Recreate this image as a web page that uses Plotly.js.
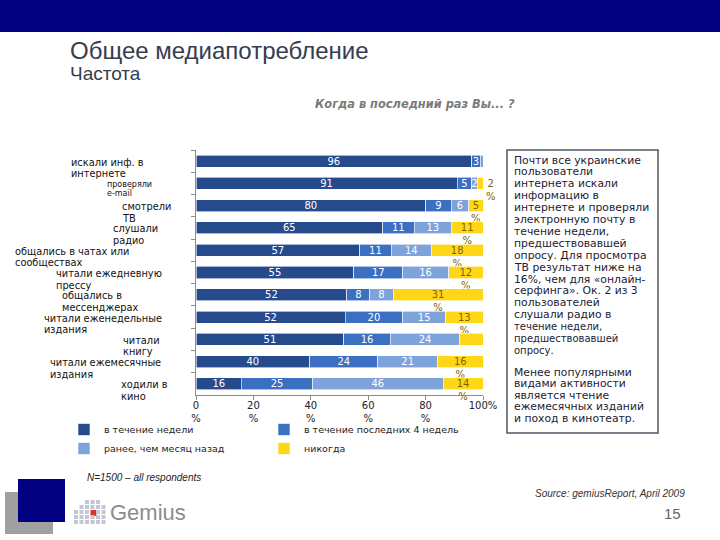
<!DOCTYPE html>
<html><head><meta charset="utf-8">
<script src="https://cdn.plot.ly/plotly-3.0.1.min.js"></script>
<style>body{margin:0;background:#fff}#chart{width:720px;height:540px}</style>
</head><body><div id="chart"></div>
<script>
// ---- data ----
const categories = ['искали инф. в<br>интернете','проверяли<br>e-mail','смотрели<br>ТВ','слушали<br>радио','общались в чатах или<br>сообществах','читали ежедневную<br>прессу','общались в<br>мессенджерах','читали еженедельные<br>издания','читали<br>книгу','читали ежемесячные<br>издания','ходили в<br>кино'];
const seriesNames = ['в течение недели','в течение последних 4 недель','ранее, чем месяц назад','никогда'];
const weekValues    = [96,91,80,65,57,55,52,52,51,40,16];
const monthValues   = [3,5,9,11,11,17,8,20,16,24,25];
const earlierValues = [1,2,6,13,14,16,8,15,24,21,46];
const neverValues   = [0,2,5,11,18,12,31,13,8,16,14];
const xTickValues = [0,20,40,60,80,100];
const xTickLabels = ['0<br>%','20<br>%','40<br>%','60<br>%','80<br>%','100%'];

// ---- geometry helpers (pixel -> paper) ----
const L=196, R=483, T=150, B=395;
const X = p => (p-L)/(R-L);
const Y = p => (B-p)/(B-T);

const colors = ['#264B8C','#3A6FC1','#7DA3DA','#FFD717'];

function bar(i, vals, texts, positions, textColor, legendId){
  return {
    type:'bar', orientation:'h', name:seriesNames[i], y:categories, x:vals,
    marker:{color:colors[i], line:{color:'#ffffff', width:0.6}},
    text:texts, textposition:positions, textangle:0, constraintext:'none',
    insidetextanchor:'middle', cliponaxis:false,
    textfont:{family:'DejaVu Sans', size:10, color:textColor},
    insidetextfont:{family:'DejaVu Sans', size:10, color:textColor},
    outsidetextfont:{family:'DejaVu Sans', size:10, color:textColor},
    hoverinfo:'x+name', legend:legendId
  };
}
const weekText = weekValues.map(v=>String(v));
const monthText = monthValues.map(v=>String(v));
const earlierText = earlierValues.map(v=> v>=2 ? String(v) : '');
const neverText = neverValues.map(v=> v>0 ? '&nbsp;<br>'+v+'<br>%' : '');
const neverPos = neverValues.map(v=> v<=3 ? 'outside' : 'inside');

const traces = [
  bar(0, weekValues, weekText, 'inside', '#ffffff', 'legend'),
  bar(1, monthValues, monthText, 'inside', '#ffffff', 'legend2'),
  bar(2, earlierValues, earlierText, 'inside', '#ffffff', 'legend'),
  bar(3, neverValues, neverText, neverPos, '#7d6400', 'legend2')
];

// ---- annotations ----
const ann = [];
const labelLeft = [70,106,121,112,14,55,61,43,122,49,120];
categories.forEach((c,i)=>{
  const small = (i===1);
  c.split('<br>').forEach((line,j)=>ann.push({
    xref:'paper', yref:'y', x:X(labelLeft[i]), y:i, xanchor:'left', yanchor:'middle', align:'left',
    text:line, showarrow:false, yshift: -1 - j*(small ? 9 : 11.5), borderpad:0,
    font:{family:'DejaVu Sans', size: small ? 8 : 9.8, color:'#111111'}
  }));
});
ann.push({xref:'paper',yref:'paper',x:X(68),y:Y(50),xanchor:'left',yanchor:'middle',showarrow:false,
  text:'Общее медиапотребление',font:{family:'Liberation Sans',size:24,color:'#353d50'}});
ann.push({xref:'paper',yref:'paper',x:X(68),y:Y(73),xanchor:'left',yanchor:'middle',showarrow:false,
  text:'Частота',font:{family:'Liberation Sans',size:19,color:'#353d50'}});
ann.push({xref:'paper',yref:'paper',x:X(415),y:Y(104),xanchor:'center',yanchor:'middle',showarrow:false,
  text:'Когда в последний раз Вы... ?',font:{family:'DejaVu Sans',size:11.4,color:'#7a7a7a',weight:'bold',style:'italic'}});

const boxP1 = ['Почти все украинские','пользователи','интернета искали','информацию в','интернете и проверяли','электронную почту в','течение недели,','предшествовавшей','опросу. Для просмотра','ТВ результат ниже на','16%, чем для «онлайн-','серфинга». Ок. 2 из 3','пользователей','слушали радио в','течение недели,','предшествовавшей','опросу.'];
const boxP2 = ['Менее популярными','видами активности','является чтение','ежемесячных изданий','и поход в кинотеатр.'];
boxP1.forEach((t,i)=>ann.push({xref:'paper',yref:'paper',x:X(513),y:Y(160+i*11.9),xanchor:'left',yanchor:'middle',
  showarrow:false,borderpad:0,text:t,font:{family:'DejaVu Sans',size: i>=14 ? 10 : 10.8,color:'#1c2233'}}));
boxP2.forEach((t,i)=>ann.push({xref:'paper',yref:'paper',x:X(513),y:Y(372+i*11.6),xanchor:'left',yanchor:'middle',
  showarrow:false,borderpad:0,text:t,font:{family:'DejaVu Sans',size:10.8,color:'#1c2233'}}));

ann.push({xref:'paper',yref:'paper',x:X(85),y:Y(477),xanchor:'left',yanchor:'middle',showarrow:false,
  text:'N=1500 – all respondents',font:{family:'Liberation Sans',size:10,color:'#222',style:'italic'}});
ann.push({xref:'paper',yref:'paper',x:X(687),y:Y(493),xanchor:'right',yanchor:'middle',showarrow:false,
  text:'Source: gemiusReport, April 2009',font:{family:'Liberation Sans',size:10,color:'#333',style:'italic'}});
ann.push({xref:'paper',yref:'paper',x:X(683),y:Y(513),xanchor:'right',yanchor:'middle',showarrow:false,
  text:'15',font:{family:'Liberation Sans',size:15,color:'#666'}});
ann.push({xref:'paper',yref:'paper',x:X(108),y:Y(512),xanchor:'left',yanchor:'middle',showarrow:false,
  text:'Gemius',font:{family:'Liberation Sans',size:22,color:'#8c8c8c'}});

// ---- shapes ----
const shapes = [];
const rect = (x0,y0,x1,y1,fill,line,lw,layer)=>shapes.push({type:'rect',xref:'paper',yref:'paper',
  x0:X(x0),x1:X(x1),y0:Y(y0),y1:Y(y1),fillcolor:fill,line:{color:line||fill,width:lw||0},layer:layer||'above'});
rect(0,0,720,32,'#000080');
rect(507,150,658,433,'rgba(0,0,0,0)','#4d5666',1.5,'below');
rect(5,492,53,534,'#a0a0a0');
rect(18,479,65,522,'#000080');
// logo dots
const colStart=[2,1,0,0,0,1];
for(let c=0;c<6;c++){ for(let r=colStart[c];r<5;r++){
  const x0=74+c*5.5, y0=500+r*5;
  const red = (c===3 && r===2);
  rect(x0,y0,x0+(red?6:4),y0+(red?6:4), red?'#d9312b':'#c3c6d3');
}}

const layout = {
  width:720, height:540, margin:{l:L, r:720-R, t:T, b:540-B},
  paper_bgcolor:'#ffffff', plot_bgcolor:'#ffffff',
  barmode:'stack', barnorm:'percent', bargap:0.46,
  font:{family:'DejaVu Sans', size:10, color:'#111'},
  xaxis:{range:[0,100], tickvals:xTickValues, ticktext:xTickLabels, showgrid:false, zeroline:false,
    showline:true, linecolor:'#8c8c8c', linewidth:1, ticks:'outside', ticklen:4, tickcolor:'#8c8c8c',
    ticklabelstandoff:-3,
    tickfont:{family:'DejaVu Sans', size:10, color:'#222'}, fixedrange:true},
  yaxis:{autorange:false, range:[categories.length-0.5, -0.5], showticklabels:false, showgrid:false, zeroline:false, showline:true,
    linecolor:'#8c8c8c', linewidth:1, ticks:'outside', ticklen:4, tickcolor:'#8c8c8c', tickson:'boundaries', fixedrange:true},
  showlegend:true,
  legend:{x:X(64), y:Y(415), xanchor:'left', yanchor:'top', orientation:'v', bgcolor:'rgba(0,0,0,0)',
    font:{family:'DejaVu Sans', size:9.5, color:'#222'}, itemwidth:30, tracegroupgap:0, traceorder:'normal'},
  legend2:{x:X(264), y:Y(415), xanchor:'left', yanchor:'top', orientation:'v', bgcolor:'rgba(0,0,0,0)',
    font:{family:'DejaVu Sans', size:9.5, color:'#222'}, itemwidth:30, tracegroupgap:0, traceorder:'normal'},
  annotations:ann, shapes:shapes
};
Plotly.newPlot('chart', traces, layout, {displayModeBar:false, staticPlot:true});
</script></body></html>
